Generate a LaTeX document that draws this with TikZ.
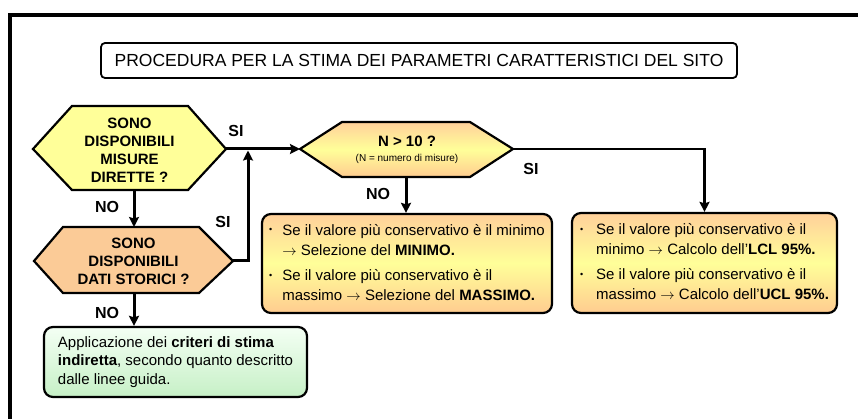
\documentclass[tikz,border=0pt]{standalone}
\usepackage{fontspec}
\setmainfont{Liberation Sans}
\usetikzlibrary{arrows.meta}
\definecolor{hexyellow}{HTML}{FFFF99}
\definecolor{hexpeach}{HTML}{FBCB97}
\definecolor{boxtop}{HTML}{FFD09A}
\definecolor{boxmid}{HTML}{FFFF99}
\definecolor{boxbot}{HTML}{FFCC90}
\definecolor{greentop}{HTML}{F4FFF4}
\definecolor{greenbot}{HTML}{C6F0C6}
\newcommand{\smbul}{\raisebox{2pt}{\fontsize{9}{9}\selectfont\textbullet}}
\begin{document}
\begin{tikzpicture}[x=1pt,y=-1pt,
  hexline/.style={draw=black,line width=2.2pt,line join=miter},
  hextext/.style={font=\fontsize{15}{18}\selectfont\bfseries,align=center,inner sep=0pt},
  conn/.style={line width=3pt,-{Stealth[length=10pt,width=10pt,inset=1.5pt]}},
  rbox/.style={draw=black,line width=2.2pt,rounded corners=9pt,inner sep=0pt},
  lbl/.style={font=\fontsize{16}{18}\selectfont\bfseries,inner sep=0pt},
  boxfont/.style={font=\fontsize{15}{20}\selectfont}
]
\useasboundingbox (0,0) rectangle (858,419);
% outer frame
\draw[line width=4pt] (9.5,440) -- (9.5,15) -- (880,15);
% title
\node[draw=black,line width=1.8pt,rounded corners=4pt,minimum width=636pt,minimum height=35pt,inner sep=0pt,
  font=\fontsize{17.5}{20}\selectfont] (title) at (419,60.5)
  {PROCEDURA PER LA STIMA DEI PARAMETRI CARATTERISTICI DEL SITO};
% hexagon 1
\path[hexline,fill=hexyellow] (33,149) -- (72,106) -- (188,106) -- (226,149) -- (188,190) -- (72,190) -- cycle;
\node[hextext] (h1) at (129.5,150) {SONO\\DISPONIBILI\\MISURE\\DIRETTE ?};
\coordinate (h1e) at (226,149);
\coordinate (h1s) at (134,190);
% hexagon 2
\path[hexline,fill=hexpeach] (34,261) -- (63,227) -- (199,227) -- (233,261) -- (199,293) -- (63,293) -- cycle;
\node[hextext] (h2) at (133.5,261.5) {SONO\\DISPONIBILI\\DATI STORICI ?};
\coordinate (h2n) at (134,227);
\coordinate (h2e) at (233,261);
\coordinate (h2s) at (134,293);
% hexagon N
\path[hexline,top color=boxtop,bottom color=boxbot,middle color=boxmid] (300,149) -- (342,122) -- (470,122) -- (513,149) -- (470,177) -- (342,177) -- cycle;
\node[hextext,font=\fontsize{15}{16}\selectfont\bfseries] (hN) at (407,150)
  {N > 10 ?\\[-1pt]{\fontsize{10}{11}\selectfont\mdseries (N = numero di misure)}};
\coordinate (hNw) at (300,149);
\coordinate (hNe) at (513,149);
\coordinate (hNs) at (406,177);
\coordinate (junc) at (248,149);
% boxes
\node[rbox,top color=boxtop,bottom color=boxbot,middle color=boxmid,minimum width=290pt,minimum height=99pt,boxfont] (mid) at (407,263.5)
  {\begin{tabular}{@{}l@{\hspace{10pt}}l@{}}
  \smbul & Se il valore più conservativo è il minimo\\
  & $\rightarrow$ Selezione del \textbf{MINIMO.}\\[5pt]
  \smbul & Se il valore più conservativo è il\\
  & massimo $\rightarrow$ Selezione del \textbf{MASSIMO.}
  \end{tabular}};
\node[rbox,top color=boxtop,bottom color=boxbot,middle color=boxmid,minimum width=265pt,minimum height=100pt,boxfont] (right) at (704.5,263)
  {\begin{tabular}{@{}l@{\hspace{13pt}}l@{}}
  \smbul & Se il valore più conservativo è il\\
  & minimo $\rightarrow$ Calcolo dell’\textbf{LCL 95\%.}\\[5pt]
  \smbul & Se il valore più conservativo è il\\
  & massimo $\rightarrow$ Calcolo dell’\textbf{UCL 95\%.}
  \end{tabular}};
\node[rbox,top color=greentop,bottom color=greenbot,minimum width=263pt,minimum height=70pt,
  font=\fontsize{15}{18.5}\selectfont,align=left] (green) at (175.5,362)
  {Applicazione dei \textbf{criteri di stima}\\\textbf{indiretta}, secondo quanto descritto\\dalle linee guida.};
% connectors
\draw[conn] (h1e) -- (hNw);
\draw[conn,shorten >=1.5pt] (h2e) -| (junc);
\draw[conn] (h1s) -- (h2n);
\draw[conn] (h2s) -- (h2s |- green.north);
\draw[conn] (hNs) -- (hNs |- mid.north);
\draw[line width=2.2pt,-{Stealth[length=10pt,width=10pt,inset=1.5pt]}] (hNe) -| (right.north);
% labels
\node[lbl] (l1) at (236,131) {SI};
\node[lbl] (l2) at (223,222) {SI};
\node[lbl] (l3) at (107,207) {NO};
\node[lbl] (l4) at (107,313) {NO};
\node[lbl] (l5) at (378,194) {NO};
\node[lbl] (l6) at (531,169) {SI};
\end{tikzpicture}
\end{document}
